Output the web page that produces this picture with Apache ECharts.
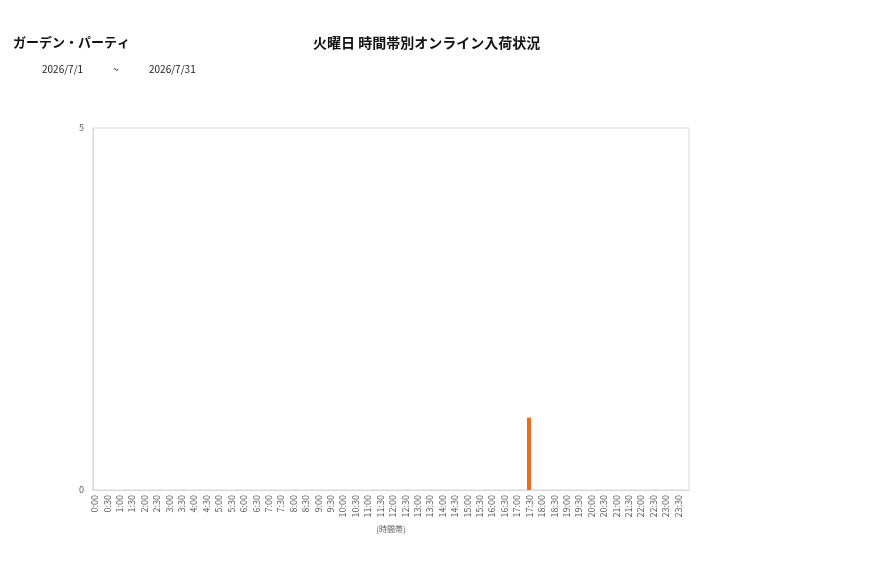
<!DOCTYPE html>
<html>
<head>
<meta charset="utf-8">
<script src="https://cdn.jsdelivr.net/npm/echarts@6/dist/echarts.min.js"></script>
<style>
  html, body { margin: 0; padding: 0; background: #fff; }
  #chart { width: 877px; height: 578px; }
</style>
</head>
<body>
<div id="chart"></div>
<script>
// chart data
const shopName = 'ガーデン・パーティ';
const chartTitle = '火曜日 時間帯別オンライン入荷状況';
const dateFrom = '2026/7/1';
const dateTo = '2026/7/31';
const xAxisName = '(時間帯)';

const timeSlots = [
  '0:00', '0:30', '1:00', '1:30', '2:00', '2:30', '3:00', '3:30',
  '4:00', '4:30', '5:00', '5:30', '6:00', '6:30', '7:00', '7:30',
  '8:00', '8:30', '9:00', '9:30', '10:00', '10:30', '11:00', '11:30',
  '12:00', '12:30', '13:00', '13:30', '14:00', '14:30', '15:00', '15:30',
  '16:00', '16:30', '17:00', '17:30', '18:00', '18:30', '19:00', '19:30',
  '20:00', '20:30', '21:00', '21:30', '22:00', '22:30', '23:00', '23:30'
];
const arrivals = [
  0, 0, 0, 0, 0, 0, 0, 0,
  0, 0, 0, 0, 0, 0, 0, 0,
  0, 0, 0, 0, 0, 0, 0, 0,
  0, 0, 0, 0, 0, 0, 0, 0,
  0, 0, 0, 1, 0, 0, 0, 0,
  0, 0, 0, 0, 0, 0, 0, 0
];
const yTicks = [0, 5];

const font = '"Noto Sans CJK JP", "Noto Sans", sans-serif';

const chart = echarts.init(document.getElementById('chart'));
chart.setOption({
  animation: false,
  textStyle: { fontFamily: font },
  title: [
    { text: shopName, left: 13, top: 36, padding: 0,
      textStyle: { fontSize: 13, fontWeight: 'bold', color: '#111', fontFamily: font } },
    { text: chartTitle, left: 313, top: 36, padding: 0,
      textStyle: { fontSize: 14, fontWeight: 'bold', color: '#111', fontFamily: font } },
    { text: dateFrom, left: 42, top: 64, padding: 0,
      textStyle: { fontSize: 10, fontWeight: 'normal', color: '#222', fontFamily: font } },
    { text: '~', left: 113, top: 64, padding: 0,
      textStyle: { fontSize: 10, fontWeight: 'normal', color: '#222', fontFamily: font } },
    { text: dateTo, left: 149, top: 64, padding: 0,
      textStyle: { fontSize: 10, fontWeight: 'normal', color: '#222', fontFamily: font } }
  ],
  grid: {
    left: 93, right: 188, top: 128, bottom: 88,
    show: true, borderColor: '#d9d9d9', borderWidth: 1
  },
  xAxis: {
    type: 'category',
    data: timeSlots,
    name: xAxisName,
    nameLocation: 'middle',
    nameGap: 35,
    nameTextStyle: { fontSize: 8, color: '#595959' },
    axisLine: { lineStyle: { color: '#d9d9d9' } },
    axisTick: { show: false },
    axisLabel: {
      interval: 0, rotate: 90, fontSize: 9, color: '#595959', margin: 5,
      verticalAlign: 'bottom', lineHeight: 9
    }
  },
  yAxis: {
    type: 'value',
    min: yTicks[0],
    max: yTicks[yTicks.length - 1],
    interval: yTicks[1] - yTicks[0],
    axisLine: { show: true, lineStyle: { color: '#d9d9d9' } },
    axisTick: { show: false },
    splitLine: { show: false },
    axisLabel: { fontSize: 9, color: '#595959', margin: 9 }
  },
  series: [
    {
      type: 'bar',
      data: arrivals,
      barWidth: 4,
      barGap: '140%',
      itemStyle: { color: '#ee6a1c' }
    },
    {
      type: 'bar',
      data: [],
      barWidth: 4
    }
  ]
});
</script>
</body>
</html>
